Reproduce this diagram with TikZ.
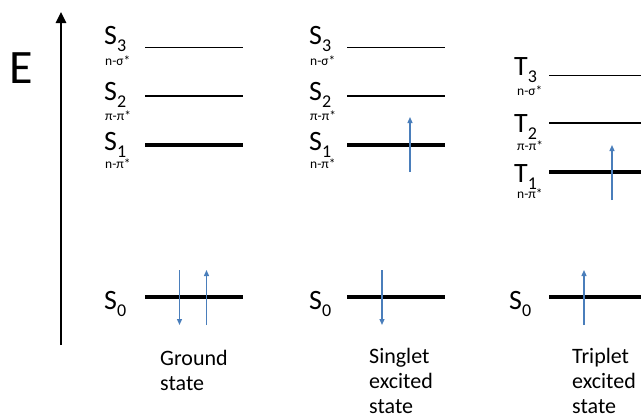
\documentclass[tikz,border=0pt]{standalone}
\usepackage{fontspec}
\setmainfont{Carlito}
\usetikzlibrary{arrows.meta}
\definecolor{spinblue}{HTML}{4A7EBB}
\newcommand\lvlname[2]{#1\raisebox{-7.5pt}{\fontsize{18}{18}\selectfont #2}}
\begin{document}
\begin{tikzpicture}[x=1pt,y=-1pt,
  thinlevel/.style={line width=1pt},
  midlevel/.style={line width=2pt},
  thicklevel/.style={line width=3.5pt},
  spin/.style={draw=spinblue, line width=1.3pt, -{Triangle[length=6pt,width=5pt]}},
  lab/.style={anchor=base west, inner sep=0pt, font=\fontsize{28}{28}\selectfont},
  sublab/.style={anchor=base west, inner sep=0pt, font=\fontsize{13.5}{13.5}\selectfont},
  caption/.style={anchor=base west, inner sep=0pt, align=left, font=\fontsize{22}{25}\selectfont}]
\useasboundingbox (0,0) rectangle (641,418);
% energy axis
\coordinate (axb) at (61,345);
\coordinate (axt) at (61,12);
\draw[line width=2.5pt, -{Triangle[length=11pt,width=10pt]}] (axb) -- (axt);
\node[anchor=base west, inner sep=0pt, font=\fontsize{48}{48}\selectfont] (E) at (9,83) {E};

% ---------- Ground state ----------
\node[lab] (g3) at (104,44) {\lvlname{S}{3}};
\node[sublab] (g3s) at (105,65) {n-σ*};
\node[lab] (g2) at (104,100) {\lvlname{S}{2}};
\node[sublab] (g2s) at (105,120) {π-π*};
\node[lab] (g1) at (104,150) {\lvlname{S}{1}};
\node[sublab] (g1s) at (105,168) {n-π*};
\node[lab] (g0) at (104,309) {\lvlname{S}{0}};
\draw[thinlevel] (145,47) -- (243,47);
\draw[midlevel] (145,96) -- (243,96);
\draw[thicklevel] (145,145) -- (243,145);
\draw[thicklevel] (145,297) -- (243,297);
\coordinate (gda) at (179.5,270); \coordinate (gdb) at (179.5,325);
\coordinate (gua) at (206.5,325); \coordinate (gub) at (206.5,270);
\draw[spin] (gda) -- (gdb);
\draw[spin] (gua) -- (gub);
\node[caption] (gcap) at (160,390) {Ground\\state};

% ---------- Singlet excited state ----------
\node[lab] (s3) at (309,44) {\lvlname{S}{3}};
\node[sublab] (s3s) at (310,65) {n-σ*};
\node[lab] (s2) at (309,100) {\lvlname{S}{2}};
\node[sublab] (s2s) at (310,120) {π-π*};
\node[lab] (s1) at (309,150) {\lvlname{S}{1}};
\node[sublab] (s1s) at (310,168) {n-π*};
\node[lab] (s0) at (309,309) {\lvlname{S}{0}};
\draw[thinlevel] (347,47) -- (445,47);
\draw[midlevel] (347,96) -- (445,96);
\draw[thicklevel] (347,145) -- (445,145);
\draw[thicklevel] (347,297) -- (445,297);
\coordinate (sua) at (410,172); \coordinate (sub) at (410,117);
\coordinate (sda) at (382,270); \coordinate (sdb) at (382,325);
\draw[spin] (sua) -- (sub);
\draw[spin] (sda) -- (sdb);
\node[caption] (scap) at (369,413) {Singlet\\excited\\state};

% ---------- Triplet excited state ----------
\node[lab] (t3) at (514,75) {\lvlname{T}{3}};
\node[sublab] (t3s) at (517,95) {n-σ*};
\node[lab] (t2) at (514,132) {\lvlname{T}{2}};
\node[sublab] (t2s) at (517,150) {π-π*};
\node[lab] (t1) at (514,182) {\lvlname{T}{1}};
\node[sublab] (t1s) at (517,198) {n-π*};
\node[lab] (t0) at (509,309) {\lvlname{S}{0}};
\draw[thinlevel] (549,75) -- (641,75);
\draw[midlevel] (549,123) -- (641,123);
\draw[thicklevel] (549,172) -- (641,172);
\draw[thicklevel] (549,297) -- (641,297);
\coordinate (tua) at (612,200); \coordinate (tub) at (612,145);
\coordinate (t0a) at (584,325); \coordinate (t0b) at (584,270);
\draw[spin] (tua) -- (tub);
\draw[spin] (t0a) -- (t0b);
\node[caption] (tcap) at (572,413) {Triplet\\excited\\state};
\end{tikzpicture}
\end{document}
